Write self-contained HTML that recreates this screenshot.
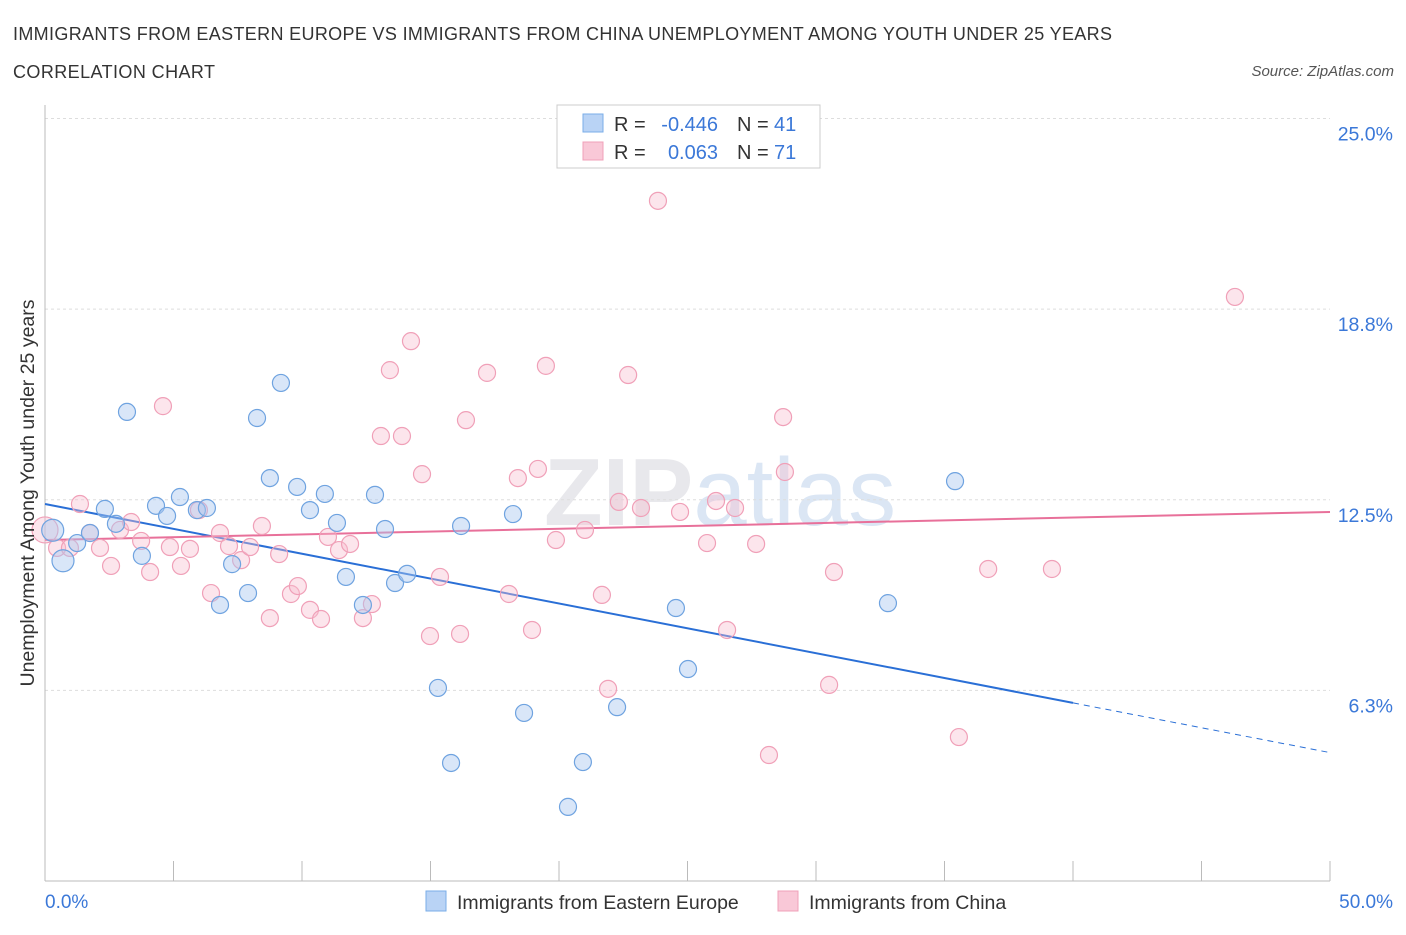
<!DOCTYPE html>
<html><head><meta charset="utf-8"><style>
body{margin:0;background:#fff;font-family:"Liberation Sans",sans-serif;}
svg text{font-family:"Liberation Sans",sans-serif;}
</style></head><body>
<svg id="chart" width="1406" height="930">
<text x="13" y="40" font-size="18" fill="#333" textLength="1099" lengthAdjust="spacing">IMMIGRANTS FROM EASTERN EUROPE VS IMMIGRANTS FROM CHINA UNEMPLOYMENT AMONG YOUTH UNDER 25 YEARS</text>
<text x="13" y="78" font-size="18" fill="#333" textLength="202" lengthAdjust="spacing">CORRELATION CHART</text>
<text x="1394" y="76" font-size="15" fill="#555" font-style="italic" text-anchor="end">Source: ZipAtlas.com</text>
<text x="720" y="525" font-size="96" fill="#e8e8ec" text-anchor="middle" font-weight="bold">ZIP<tspan fill="#dbe6f4" font-weight="normal">atlas</tspan></text>
<g id="grid"></g><g id="axes"></g><g id="lines"></g><g id="pts"></g>
<text x="0" y="0" transform="translate(34,493) rotate(-90)" font-size="19.5" fill="#333" text-anchor="middle">Unemployment Among Youth under 25 years</text>
<text x="45" y="908" font-size="19" fill="#3b78d8">0.0%</text>
<text x="1393" y="908" font-size="19" fill="#3b78d8" text-anchor="end">50.0%</text>
<g>
<rect x="557" y="105" width="263" height="63" fill="#fff" stroke="#ccc"/>
<rect x="583" y="114" width="20" height="18" fill="#b9d3f5" stroke="#7aaee8"/>
<rect x="583" y="142" width="20" height="18" fill="#f9c8d7" stroke="#f0a0b8"/>
<text x="614" y="131" font-size="20" fill="#333">R =</text>
<text x="718" y="131" font-size="20" fill="#3b78d8" text-anchor="end">-0.446</text>
<text x="737" y="131" font-size="20" fill="#333">N =</text>
<text x="774" y="131" font-size="20" fill="#3b78d8">41</text>
<text x="614" y="159" font-size="20" fill="#333">R =</text>
<text x="718" y="159" font-size="20" fill="#3b78d8" text-anchor="end">0.063</text>
<text x="737" y="159" font-size="20" fill="#333">N =</text>
<text x="774" y="159" font-size="20" fill="#3b78d8">71</text>
</g>
<g>
<rect x="426" y="891" width="20" height="20" fill="#b9d3f5" stroke="#7aaee8"/>
<text x="457" y="909" font-size="19.5" fill="#333">Immigrants from Eastern Europe</text>
<rect x="778" y="891" width="20" height="20" fill="#f9c8d7" stroke="#f0a0b8"/>
<text x="809" y="909" font-size="19.5" fill="#333">Immigrants from China</text>
</g>
</svg>
<script>
const yTicks=[25.0,18.8,12.5,6.3];
const yTickValues=[25,18.75,12.5,6.25];
const blueX=[0.3,0.7,1.25,1.75,2.33,2.76,3.19,3.77,4.32,4.75,5.25,5.91,6.3,6.81,7.28,7.9,8.25,8.75,9.18,9.81,10.31,10.89,11.36,11.71,12.37,12.84,13.23,13.62,14.09,15.29,15.8,16.19,18.21,18.64,20.35,20.93,22.26,24.55,25.02,32.8,35.41];
const blueY=[11.5,10.5,11.08,11.41,12.2,11.71,15.38,10.66,12.3,11.97,12.59,12.16,12.23,9.05,10.39,9.44,15.18,13.21,16.33,12.92,12.16,12.69,11.74,9.97,9.05,12.66,11.54,9.77,10.07,6.33,3.87,11.64,12.03,5.51,2.43,3.9,5.7,8.95,6.95,9.11,13.11];
const pinkX=[0,0.47,0.97,1.36,1.75,2.14,2.57,2.92,3.35,3.74,4.09,4.59,4.86,5.29,5.64,5.99,6.46,6.81,7.16,7.63,7.98,8.44,8.75,9.11,9.57,9.84,10.31,10.74,11.01,11.44,11.87,12.37,12.72,13.07,13.42,13.89,14.24,14.67,14.98,15.37,16.15,16.38,17.2,18.05,18.4,18.95,19.18,19.49,19.88,21.01,21.67,21.91,22.33,22.69,23.19,23.85,24.71,25.76,26.11,26.54,26.85,27.67,28.17,28.72,28.79,30.51,30.7,35.56,36.7,39.18,46.3];
const pinkY=[11.51,10.92,10.92,12.36,11.41,10.92,10.33,11.51,11.77,11.15,10.13,15.57,10.95,10.33,10.89,12.16,9.44,11.41,10.98,10.52,10.95,11.64,8.62,10.72,9.41,9.67,8.89,8.59,11.28,10.85,11.05,8.62,9.08,14.59,16.75,14.59,17.7,13.34,8.03,9.97,8.1,15.11,16.66,9.41,13.21,8.23,13.51,16.89,11.18,11.51,9.38,6.3,12.43,16.59,12.23,22.3,12.1,11.08,12.46,8.23,12.23,11.05,4.13,15.21,13.41,6.43,10.13,4.72,10.23,10.23,19.15];
const blueTrend=[12.36,-0.163];
const pinkTrend=[11.18,0.0184];
const X=v=>45+v/50*1285, Y=v=>881-v/25*762.5;
const NS='http://www.w3.org/2000/svg';
function mk(tag,attrs,parent){const e=document.createElementNS(NS,tag);for(const k in attrs)e.setAttribute(k,attrs[k]);document.getElementById(parent).appendChild(e);return e;}
yTickValues.forEach((v,i)=>{
 const g=mk('line',{x1:45,x2:1330,y1:Y(v),y2:Y(v),stroke:'#ddd','stroke-dasharray':'3,3'},'grid');
 
 
 const t=mk('text',{x:1393,y:Y(v)+22,'font-size':19.5,fill:'#3b78d8','text-anchor':'end'},'grid');
 t.textContent=yTicks[i].toFixed(1)+'%';
 
 
});
const ax=mk('line',{x1:45,x2:45,y1:105,y2:881,stroke:'#bbb'},'axes');


const bx=mk('line',{x1:45,x2:1330,y1:881,y2:881,stroke:'#bbb'},'axes');


for(let i=0;i<=10;i++){const t=mk('line',{x1:X(i*5),x2:X(i*5),y1:861,y2:881,stroke:'#bbb'},'axes');
 
 }
function pt(x,y,r,fill,stroke,name){const c=mk('circle',{cx:X(x),cy:Y(y),r:r,fill:fill,stroke:stroke,'stroke-width':1.2},'pts');
 
 }
pinkX.forEach((x,i)=>pt(x,pinkY[i],i==0?13:8.5,'rgba(248,190,208,0.4)','#f0a0b8','china-point'));
blueX.forEach((x,i)=>pt(x,blueY[i],i<2?11:8.5,'rgba(170,200,240,0.45)','#6fa3e0','eastern-europe-point'));
const b1=mk('line',{x1:X(0),y1:Y(blueTrend[0]),x2:X(40),y2:Y(blueTrend[0]+blueTrend[1]*40),stroke:'#2a6fd6','stroke-width':2},'lines');


const b2=mk('line',{x1:X(40),y1:Y(blueTrend[0]+blueTrend[1]*40),x2:X(50),y2:Y(blueTrend[0]+blueTrend[1]*50),stroke:'#2a6fd6','stroke-width':1,'stroke-dasharray':'6,5'},'lines');


const p1=mk('line',{x1:X(0),y1:Y(pinkTrend[0]),x2:X(50),y2:Y(pinkTrend[0]+pinkTrend[1]*50),stroke:'#e8709a','stroke-width':2},'lines');


</script>
</body></html>
